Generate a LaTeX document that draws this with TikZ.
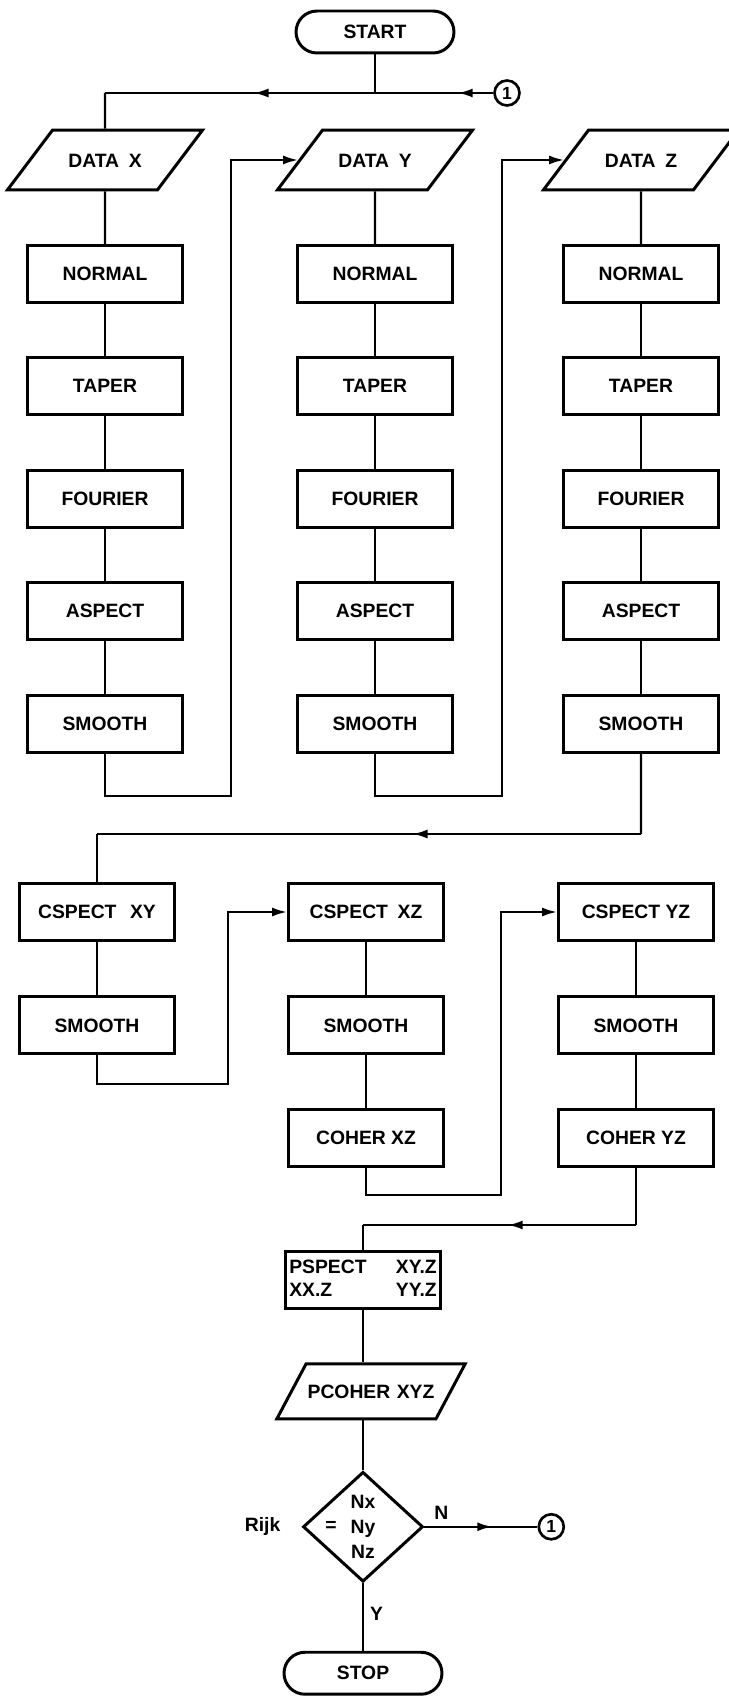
\documentclass[tikz,border=0pt]{standalone}
\usepackage{fontspec}
\setmainfont{Liberation Sans}
\usetikzlibrary{arrows.meta, positioning, shapes.geometric, decorations.markings}

\begin{document}
\begin{tikzpicture}[
		x=0.02cm, y=-0.02cm,
		node distance=1.05cm,
		every node/.style={font=\bfseries\fontsize{11}{14.2}\selectfont},
		procbox/.style={draw, line width=1.7pt, minimum width=3.1cm, minimum height=1.14cm, inner sep=0pt},
		iobox/.style={draw, line width=1.7pt, trapezium, trapezium left angle=53, trapezium right angle=127,
			text width=1.5cm, align=center, text height=8pt, text depth=0pt, inner xsep=0.3cm, inner ysep=13pt},
		termbox/.style={draw, line width=1.7pt, rounded corners=0.42cm, minimum width=3.16cm, minimum height=0.84cm},
		decbox/.style={draw, line width=1.7pt, diamond, minimum width=2.4cm, minimum height=2.2cm, inner sep=0pt},
		connbox/.style={draw, circle, line width=1.5pt, minimum size=0.5cm, inner sep=0pt,
			font=\bfseries\fontsize{10}{10}\selectfont},
		wire/.style={line width=1.3pt},
		arrow/.style={wire, -{Latex[length=3mm, width=1.8mm]}},
		midarrow/.style={wire, postaction={decorate}, decoration={markings,
			mark=at position #1 with {\arrow{Latex[length=3mm, width=1.8mm]}}}},
		midarrow/.default=0.5
	]
		\useasboundingbox (0,0) rectangle (729,1696);
		\path[fill=white] (0,0) rectangle (729,1696);

		\node[termbox] (start) at (375,32) {START};
		\node[connbox] (onetop) at (507,93) {1};

		\node[iobox] (datax) at (105,160) {DATA\hspace{0.5em}X};
		\node[procbox, below=of datax] (normalx) {NORMAL};
		\node[procbox, below=of normalx] (taperx) {TAPER};
		\node[procbox, below=of taperx] (fourierx) {FOURIER};
		\node[procbox, below=of fourierx] (aspectx) {ASPECT};
		\node[procbox, below=of aspectx] (smoothx) {SMOOTH};

		\node[iobox] (datay) at (375,160) {DATA\hspace{0.5em}Y};
		\node[procbox, below=of datay] (normaly) {NORMAL};
		\node[procbox, below=of normaly] (tapery) {TAPER};
		\node[procbox, below=of tapery] (fouriery) {FOURIER};
		\node[procbox, below=of fouriery] (aspecty) {ASPECT};
		\node[procbox, below=of aspecty] (smoothy) {SMOOTH};

		\node[iobox] (dataz) at (641,160) {DATA\hspace{0.5em}Z};
		\node[procbox, below=of dataz] (normalz) {NORMAL};
		\node[procbox, below=of normalz] (taperz) {TAPER};
		\node[procbox, below=of taperz] (fourierz) {FOURIER};
		\node[procbox, below=of fourierz] (aspectz) {ASPECT};
		\node[procbox, below=of aspectz] (smoothz) {SMOOTH};

		\node[procbox] (cspectxy) at (97,912) {CSPECT\hspace{0.7em}XY};
		\node[procbox, below=1.07cm of cspectxy] (smoothxy) {SMOOTH};

		\node[procbox] (cspectxz) at (366,912) {CSPECT\hspace{0.5em}XZ};
		\node[procbox, below=1.07cm of cspectxz] (smoothxz) {SMOOTH};
		\node[procbox, below=1.05cm of smoothxz] (coherxz) {COHER XZ};

		\node[procbox] (cspectyz) at (636,912) {CSPECT YZ};
		\node[procbox, below=1.07cm of cspectyz] (smoothyz) {SMOOTH};
		\node[procbox, below=1.05cm of smoothyz] (coheryz) {COHER YZ};

		\node[procbox] (pspect) at (363,1280) {\begin{tabular*}{2.95cm}{@{}l@{\extracolsep{\fill}}r@{}}
			PSPECT & XY.Z\\[-1pt] XX.Z & YY.Z\end{tabular*}};
		\node[iobox, trapezium left angle=62, trapezium right angle=118, text width=2.6cm,
			inner xsep=0pt, inner ysep=11.6pt, below=1.05cm of pspect, xshift=0.16cm] (pcoher) {PCOHER XYZ};
		\node[decbox, below=1cm of pcoher, xshift=-0.16cm] (decide) {};
		\node[align=center, inner sep=0pt] (ntext) at (decide) {Nx\\Ny\\Nz};
		\node[left=0.15cm of ntext] (eqsign) {=};
		\node[left=0.3cm of decide] (rijk) {Rijk};
		\node[termbox, below=1.35cm of decide] (stop) {STOP};
		\node[connbox, right=2.26cm of decide] (onebot) {1};

		\coordinate (jtop) at (start |- onetop);
		\draw[wire] (start) -- (jtop);
		\draw[midarrow=0.3] (onetop) -- (jtop);
		\draw[midarrow=0.45] (jtop) -- (datax |- jtop);
		\draw[wire] (datax |- jtop) -- (datax);

		\draw[wire] (datax) -- (normalx);
		\draw[wire] (normalx) -- (taperx);
		\draw[wire] (taperx) -- (fourierx);
		\draw[wire] (fourierx) -- (aspectx);
		\draw[wire] (aspectx) -- (smoothx);

		\draw[wire] (datay) -- (normaly);
		\draw[wire] (normaly) -- (tapery);
		\draw[wire] (tapery) -- (fouriery);
		\draw[wire] (fouriery) -- (aspecty);
		\draw[wire] (aspecty) -- (smoothy);

		\draw[wire] (dataz) -- (normalz);
		\draw[wire] (normalz) -- (taperz);
		\draw[wire] (taperz) -- (fourierz);
		\draw[wire] (fourierz) -- (aspectz);
		\draw[wire] (aspectz) -- (smoothz);

		\coordinate (loopxy) at (231,796);
		\coordinate (loopyz) at (502,796);
		\draw[arrow] (smoothx.south) |- (loopxy) |- (datay.west);
		\draw[arrow] (smoothy.south) |- (loopyz) |- (dataz.west);

		\coordinate (zturn) at (641,834);
		\coordinate (xyturn) at (cspectxy |- zturn);
		\draw[wire] (smoothz) -- (zturn);
		\draw[midarrow=0.42] (zturn) -- (xyturn);
		\draw[wire] (xyturn) -- (cspectxy);

		\draw[wire] (cspectxy) -- (smoothxy);
		\draw[wire] (cspectxz) -- (smoothxz);
		\draw[wire] (smoothxz) -- (coherxz);
		\draw[wire] (cspectyz) -- (smoothyz);
		\draw[wire] (smoothyz) -- (coheryz);

		\coordinate (loopxz) at (228,1084);
		\coordinate (loopyzc) at (501,1195);
		\draw[arrow] (smoothxy.south) |- (loopxz) |- (cspectxz.west);
		\draw[arrow] (coherxz.south) |- (loopyzc) |- (cspectyz.west);

		\coordinate (yzturn) at (636,1225);
		\coordinate (pturn) at (pspect |- yzturn);
		\draw[wire] (coheryz) -- (yzturn);
		\draw[midarrow=0.47] (yzturn) -- (pturn);
		\draw[wire] (pturn) -- (pspect);

		\draw[wire] (pspect) -- (pspect.south |- pcoher.top side);
		\draw[wire] (decide |- pcoher.bottom side) -- (decide);
		\draw[wire] (decide) -- node[right, pos=0.45] {Y} (stop);
		\draw[midarrow=0.6] (decide) -- node[above, pos=0.15] {N} (onebot);
	\end{tikzpicture}
\end{document}
